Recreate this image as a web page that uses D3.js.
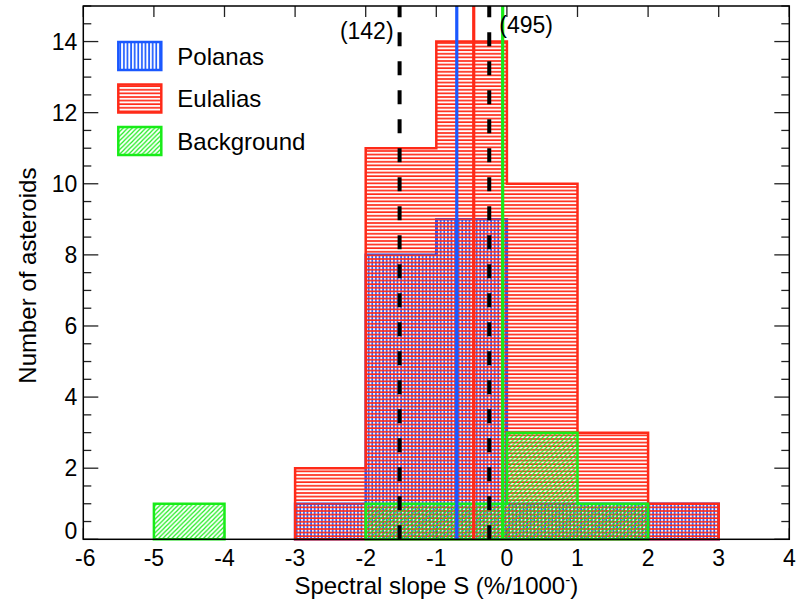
<!DOCTYPE html>
<html>
<head>
<meta charset="utf-8">
<script src="https://cdn.jsdelivr.net/npm/d3@7"></script>
<style>
body { margin: 0; background: #fff; }
svg { display: block; font-family: 'Liberation Sans', Arial, sans-serif; }
.frame { fill: none; stroke: #000; stroke-width: 1.5px; }
.tick-line { stroke: #222; stroke-width: 1.3px; }
.tick-label { font-size: 23px; fill: #000; }
.axis-title { font-size: 24px; fill: #000; }
.legend-text { font-size: 24px; fill: #000; }
.note { font-size: 23px; fill: #000; }
</style>
</head>
<body>
<svg width="800" height="608"></svg>
<script>
//Histogram bins: left edges, each bin is 1 wide.
var binStarts = [-6, -5, -4, -3, -2, -1, 0, 1, 2, 3];
var polanas = [0, 0, 0, 1, 8, 9, 1, 1, 1, 0];
var eulalias = [0, 0, 0, 2, 11, 14, 10, 3, 1, 0];
var background = [0, 1, 0, 0, 1, 1, 3, 1, 0, 0];
//Mean slopes drawn as solid vertical lines.
var meanNames = ['Polanas', 'Eulalias', 'Background'];
var meanValues = [-0.71, -0.47, -0.06];
//Dashed reference lines with their labels.
var dashValues = [-1.52, -0.25];
var dashLabels = ['(142)', '(495)'];
//Tick values.
var xTicks = [-6, -5, -4, -3, -2, -1, 0, 1, 2, 3, 4];
var yTicks = [0, 2, 4, 6, 8, 10, 12, 14];
var yMinor = d3.range(0, 15.01, 0.5);

var svg = d3.select('svg'),
	height = +svg.attr('height'), width = +svg.attr('width');
var margin = {top: 6, right: 10.7, bottom: 68.7, left: 83.3};
var widthInner = width - margin.left - margin.right,
	heightInner = height - margin.top - margin.bottom;
var inner = svg.append('g')
	.attr('transform', 'translate(' + margin.left + ',' + margin.top + ')');

var blue = '#1a58ff', red = '#ff2a18', green = '#18ec18';

var xScale = d3.scaleLinear().domain([-6, 4]).range([0, widthInner]);
var yScale = d3.scaleLinear().domain([0, 15]).range([heightInner, 0]);

//Fill patterns.
var defs = svg.append('defs');
var pv = defs.append('pattern').attr('id', 'pat-pol')
	.attr('patternUnits', 'userSpaceOnUse').attr('width', 3.6).attr('height', 10);
pv.append('line').attr('x1', 1).attr('x2', 1).attr('y1', 0).attr('y2', 10)
	.style('stroke', blue).style('stroke-width', 1.7);
var ph = defs.append('pattern').attr('id', 'pat-eul')
	.attr('patternUnits', 'userSpaceOnUse').attr('width', 10).attr('height', 3.6);
ph.append('line').attr('x1', 0).attr('x2', 10).attr('y1', 1).attr('y2', 1)
	.style('stroke', red).style('stroke-width', 1.7);
var pd = defs.append('pattern').attr('id', 'pat-bg')
	.attr('patternUnits', 'userSpaceOnUse').attr('width', 4.5).attr('height', 4.5);
pd.append('path').attr('d', 'M-1,1 l2,-2 M0,4.5 l4.5,-4.5 M3.5,5.5 l2,-2')
	.style('stroke', green).style('stroke-width', 1.2);

var clip = defs.append('clipPath').attr('id', 'plot-clip');
clip.append('rect').attr('width', widthInner).attr('height', heightInner);

//Ticks (drawn first so that bars overlay them).
var tickG = inner.append('g');
yMinor.forEach(function(v) {
	var len = (v % 2 === 0) ? 15 : 8;
	tickG.append('line').attr('class', 'tick-line')
		.attr('x1', 0).attr('x2', len).attr('y1', yScale(v)).attr('y2', yScale(v));
	tickG.append('line').attr('class', 'tick-line')
		.attr('x1', widthInner).attr('x2', widthInner - len).attr('y1', yScale(v)).attr('y2', yScale(v));
});
xTicks.forEach(function(v) {
	tickG.append('line').attr('class', 'tick-line')
		.attr('x1', xScale(v)).attr('x2', xScale(v)).attr('y1', 0).attr('y2', 11);
	tickG.append('line').attr('class', 'tick-line')
		.attr('x1', xScale(v)).attr('x2', xScale(v)).attr('y1', heightInner).attr('y2', heightInner - 11);
});

//Step outline of a histogram, one closed path per run of nonzero bins.
function stepPath(counts) {
	var d = '', i = 0;
	while (i < counts.length) {
		if (counts[i] === 0) { ++i; continue; }
		var j = i;
		d += 'M' + xScale(binStarts[i]) + ',' + yScale(0);
		while (j < counts.length && counts[j] > 0) {
			d += 'L' + xScale(binStarts[j]) + ',' + yScale(counts[j]);
			d += 'L' + xScale(binStarts[j] + 1) + ',' + yScale(counts[j]);
			++j;
		}
		d += 'L' + xScale(binStarts[j - 1] + 1) + ',' + yScale(0) + 'Z';
		i = j;
	}
	return d;
}

var hists = [
	{counts: polanas, pat: 'pat-pol', color: blue},
	{counts: eulalias, pat: 'pat-eul', color: red},
	{counts: background, pat: 'pat-bg', color: green}
];
hists.forEach(function(h) {
	inner.append('path')
		.attr('d', stepPath(h.counts))
		.style('fill', 'url(#' + h.pat + ')')
		.style('stroke', h.color)
		.style('stroke-width', 2.5)
		.style('stroke-linejoin', 'miter');
});

//Mean lines.
var meanColors = [blue, red, green];
meanValues.forEach(function(v, i) {
	inner.append('line')
		.attr('x1', xScale(v)).attr('x2', xScale(v))
		.attr('y1', yScale(0)).attr('y2', yScale(15))
		.style('stroke', meanColors[i]).style('stroke-width', 3.2);
});

//Dashed lines, drawn from the bottom up.
var dashG = inner.append('g').attr('clip-path', 'url(#plot-clip)');
dashValues.forEach(function(v) {
	dashG.append('line')
		.attr('x1', xScale(v)).attr('x2', xScale(v))
		.attr('y1', yScale(0)).attr('y2', yScale(15) - 10)
		.style('stroke', '#000').style('stroke-width', 4)
		.style('stroke-dasharray', '14,15');
});
inner.append('text').attr('class', 'note')
	.attr('x', xScale(dashValues[0]) - 6).attr('y', yScale(14.06))
	.attr('text-anchor', 'end').text(dashLabels[0]);
inner.append('text').attr('class', 'note')
	.attr('x', xScale(dashValues[1]) + 10).attr('y', yScale(14.23))
	.attr('text-anchor', 'start').text(dashLabels[1]);

//Legend.
var legendPats = ['pat-pol', 'pat-eul', 'pat-bg'];
meanNames.forEach(function(name, i) {
	var top = 36 + 42.5 * i;
	inner.append('rect')
		.attr('x', 35).attr('y', top).attr('width', 43).attr('height', 28)
		.style('fill', 'url(#' + legendPats[i] + ')')
		.style('stroke', meanColors[i]).style('stroke-width', 2.5);
	inner.append('text').attr('class', 'legend-text')
		.attr('x', 94).attr('y', top + 22.5).text(name);
});

//Frame.
inner.append('rect').attr('class', 'frame')
	.attr('width', widthInner).attr('height', heightInner);

//Tick labels.
yTicks.forEach(function(v) {
	inner.append('text').attr('class', 'tick-label')
		.attr('x', -6).attr('y', yScale(v) + (v === 0 ? 0 : 8))
		.attr('text-anchor', 'end').text(v);
});
xTicks.forEach(function(v) {
	inner.append('text').attr('class', 'tick-label')
		.attr('x', xScale(v) + (v === -6 ? 2 : 0)).attr('y', heightInner + 27)
		.attr('text-anchor', 'middle').text(v);
});

//Axis titles.
var xt = inner.append('text').attr('class', 'axis-title')
	.attr('x', widthInner / 2).attr('y', heightInner + 55)
	.attr('text-anchor', 'middle');
xt.append('tspan').text('Spectral slope S (%/1000');
xt.append('tspan').style('font-size', '15px').attr('dy', -9).text('-');
xt.append('tspan').attr('dy', 9).text(')');
inner.append('text').attr('class', 'axis-title')
	.attr('transform', 'translate(' + (-47) + ',' + (heightInner / 2 + 3) + ') rotate(-90)')
	.attr('text-anchor', 'middle').text('Number of asteroids');
</script>
</body>
</html>
